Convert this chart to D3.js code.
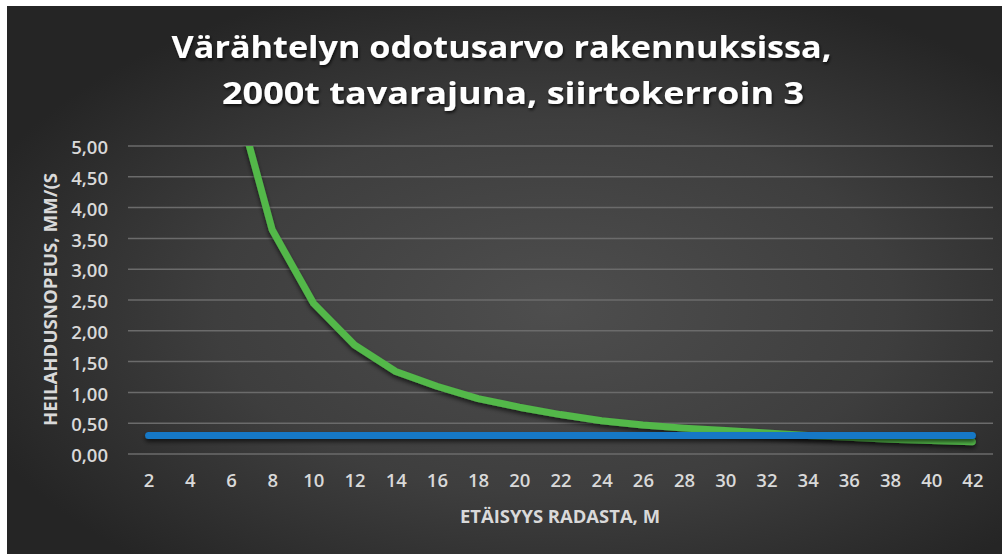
<!DOCTYPE html>
<html>
<head>
<meta charset="utf-8">
<script src="https://cdn.jsdelivr.net/npm/d3@7"></script>
<style>
  html, body { margin: 0; padding: 0; background: #ffffff; }
  svg { display: block; }
</style>
</head>
<body>
<svg id="chart" width="1002" height="554"></svg>
<script>
// ---- data ----
const distances = [2,4,6,8,10,12,14,16,18,20,22,24,26,28,30,32,34,36,38,40,42];
const expectedVibration = [43,12.5,6.1,3.64,2.45,1.77,1.34,1.10,0.90,0.76,0.64,0.54,0.47,0.42,0.38,0.34,0.30,0.27,0.24,0.22,0.20];
const limitValue = [0.3,0.3,0.3,0.3,0.3,0.3,0.3,0.3,0.3,0.3,0.3,0.3,0.3,0.3,0.3,0.3,0.3,0.3,0.3,0.3,0.3];
const yTicks = [0,0.5,1,1.5,2,2.5,3,3.5,4,4.5,5];
const titleLines = ["Värähtelyn odotusarvo rakennuksissa,", "2000t tavarajuna, siirtokerroin 3"];
const xTitle = "ETÄISYYS RADASTA, M";
const yTitle = "HEILAHDUSNOPEUS, MM/(S";

// ---- layout ----
const svg = d3.select("#chart");
const W = 1002, H = 554;
const plot = {left: 128, right: 993, top: 146, bottom: 454};

const defs = svg.append("defs");
const bg = defs.append("radialGradient").attr("id", "bg")
  .attr("cx", "0.55").attr("cy", "0.55").attr("r", "0.62");
bg.append("stop").attr("offset", "0").attr("stop-color", "#4e4e4e");
bg.append("stop").attr("offset", "0.55").attr("stop-color", "#3e3e3e");
bg.append("stop").attr("offset", "1").attr("stop-color", "#252525");

const shadow = defs.append("filter").attr("id", "shadow")
  .attr("filterUnits", "userSpaceOnUse")
  .attr("x", 0).attr("y", 0).attr("width", W).attr("height", H);
shadow.append("feDropShadow").attr("dx", 0).attr("dy", 3).attr("stdDeviation", 2)
  .attr("flood-color", "#000").attr("flood-opacity", 0.6);

const tshadow = defs.append("filter").attr("id", "tshadow")
  .attr("filterUnits", "userSpaceOnUse")
  .attr("x", 0).attr("y", 0).attr("width", W).attr("height", H);
tshadow.append("feDropShadow").attr("dx", 1).attr("dy", 2).attr("stdDeviation", 1.5)
  .attr("flood-color", "#000").attr("flood-opacity", 0.7);

defs.append("clipPath").attr("id", "clip")
  .append("rect").attr("x", 0).attr("y", plot.top).attr("width", W).attr("height", H - plot.top);

svg.append("rect").attr("x", 7).attr("y", 6).attr("width", W - 7).attr("height", H - 6)
  .attr("fill", "url(#bg)");

// ---- scales ----
const x = d3.scalePoint().domain(distances).range([plot.left, plot.right]).padding(0.5);
const y = d3.scaleLinear().domain([0, 5]).range([plot.bottom, plot.top]);

const fi = d3.formatLocale({decimal: ",", thousands: " ", grouping: [3], currency: ["", "€"]});
const fmt = fi.format(".2f");

// gridlines
svg.append("g").selectAll("line").data(yTicks).join("line")
  .attr("x1", plot.left).attr("x2", plot.right)
  .attr("y1", d => y(d)).attr("y2", d => y(d))
  .attr("stroke", "#6b6b6b").attr("stroke-width", 1.5);

// y axis
const yAxis = svg.append("g").attr("transform", `translate(${plot.left},0)`)
  .call(d3.axisLeft(y).tickValues(yTicks).tickFormat(fmt).tickSize(0).tickPadding(20));
yAxis.select(".domain").remove();
yAxis.selectAll("text")
  .attr("dy", "0.42em")
  .attr("fill", "#d9d9d9")
  .style("font-family", "'Open Sans', sans-serif")
  .style("font-weight", "600")
  .style("font-size", "18.5px");

// x axis
const xAxis = svg.append("g").attr("transform", `translate(0,${plot.bottom})`)
  .call(d3.axisBottom(x).tickSize(0).tickPadding(20));
xAxis.select(".domain").remove();
xAxis.selectAll("text")
  .attr("fill", "#d9d9d9")
  .style("font-family", "'Open Sans', sans-serif")
  .style("font-weight", "600")
  .style("font-size", "18.5px");

// lines
const line = d3.line().x((d, i) => x(distances[i])).y(d => y(d));
const lines = svg.append("g").attr("clip-path", "url(#clip)");
lines.append("path").datum(expectedVibration)
  .attr("d", line).attr("fill", "none")
  .attr("stroke", "#52b84a").attr("stroke-width", 7)
  .attr("stroke-linejoin", "round").attr("stroke-linecap", "round")
  .attr("filter", "url(#shadow)");
lines.append("path").datum(limitValue)
  .attr("d", line).attr("fill", "none")
  .attr("stroke", "#1478c6").attr("stroke-width", 7)
  .attr("stroke-linejoin", "round").attr("stroke-linecap", "round")
  .attr("filter", "url(#shadow)");

// title
const title = svg.append("g").attr("filter", "url(#tshadow)");
title.append("text").attr("x", 171.5).attr("y", 57.5)
  .attr("textLength", 660).attr("lengthAdjust", "spacingAndGlyphs")
  .attr("fill", "#ffffff")
  .style("font-family", "'Open Sans', sans-serif").style("font-weight", "700").style("font-size", "29.5px")
  .text(titleLines[0]);
title.append("text").attr("x", 222).attr("y", 103.5)
  .attr("textLength", 582).attr("lengthAdjust", "spacingAndGlyphs")
  .attr("fill", "#ffffff")
  .style("font-family", "'Open Sans', sans-serif").style("font-weight", "700").style("font-size", "29.5px")
  .text(titleLines[1]);

// axis titles
svg.append("text").attr("x", 460).attr("y", 522.5)
  .attr("textLength", 200).attr("lengthAdjust", "spacingAndGlyphs")
  .attr("fill", "#d9d9d9")
  .style("font-family", "'Open Sans', sans-serif").style("font-weight", "700").style("font-size", "18px")
  .text(xTitle);

svg.append("text")
  .attr("transform", "translate(56.5,426) rotate(-90)")
  .attr("textLength", 253).attr("lengthAdjust", "spacingAndGlyphs")
  .attr("fill", "#d9d9d9")
  .style("font-family", "'Open Sans', sans-serif").style("font-weight", "700").style("font-size", "18px")
  .text(yTitle);
</script>
</body>
</html>
